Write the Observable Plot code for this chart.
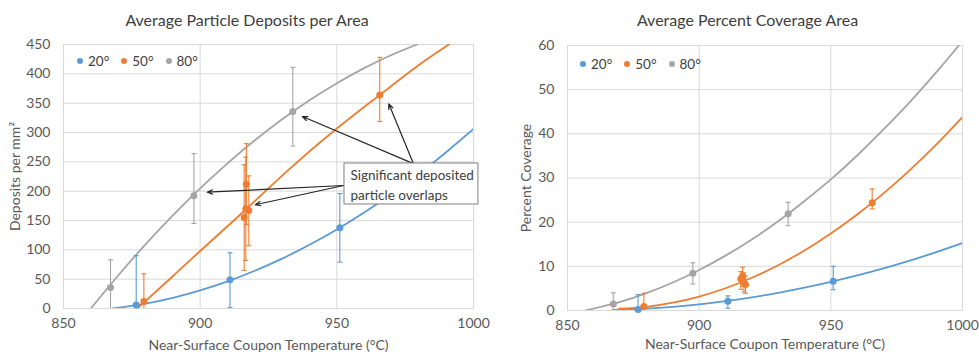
<!DOCTYPE html>
<html>
<head>
<meta charset="utf-8">
<script src="https://cdn.jsdelivr.net/npm/d3@7"></script>
<script src="https://cdn.jsdelivr.net/npm/@observablehq/plot@0.6"></script>
<style>
  html, body { margin: 0; padding: 0; background: #fff; }
  #wrap { position: relative; width: 979px; height: 355px; display: flex; font-family: Lato, "Open Sans", sans-serif; }
  .panel { position: relative; display: flex; flex-direction: column; }
  .title { height: 36px; box-sizing: border-box; padding-top: 10px; line-height: 20px; font-size: 16px; color: #404040; text-align: center; }
  .legend { position: absolute; display: flex; gap: 12px; font-size: 13.5px; color: #404040; }
  .legend span { display: flex; align-items: center; }
  .legend i { display: inline-block; width: 6px; height: 6px; border-radius: 50%; margin-right: 5px; }
</style>
</head>
<body>
<div id="wrap"></div>
<script>
// ---------- shared ----------
const seriesNames = ["20°", "50°", "80°"];
const seriesColors = ["#5B9BD5", "#ED7D31", "#A5A5A5"];
const xTicks = [850, 900, 950, 1000];

// ---------- Average Particle Deposits per Area ----------
const depTicks = [0, 50, 100, 150, 200, 250, 300, 350, 400, 450];
const dep20T = [876.6, 910.9, 951.1];
const dep20V = [6, 49, 137.5];
const dep20Lo = [0, 2, 79];
const dep20Hi = [90, 95, 196];
const dep50T = [879.4, 916.1, 916.7, 916.9, 917.8, 965.7];
const dep50V = [12, 155, 170, 212, 167, 364];
const dep50Lo = [0, 65, 82, 143, 107, 319];
const dep50Hi = [59, 245, 258, 281, 226, 428];
const dep80T = [867.2, 897.7, 933.9];
const dep80V = [36, 192, 336];
const dep80Lo = [0, 145, 277];
const dep80Hi = [83, 264, 411];
// trendlines
const depFit20T = [868, 880, 890, 900, 910, 920, 930, 940, 950, 960, 970, 980, 990, 1000];
const depFit20V = [0, 8.4, 18.3, 31, 46.3, 64.4, 85.1, 108.6, 134.8, 163.6, 195.2, 229.3, 266.3, 306];
const depFit50T = [877, 890, 900, 917, 932, 949, 966, 980, 991];
const depFit50V = [0, 55, 98, 170, 235, 303, 365, 415, 450];
const depFit80T = [860, 870, 880, 890, 900, 910, 920, 930, 940, 950, 960, 970, 979.4];
const depFit80V = [0, 56.3, 109.2, 158.6, 204.7, 247.4, 286.7, 322.6, 355, 384.1, 409.8, 432.1, 450];
// annotation
const noteText = "Significant deposited\nparticle overlaps";
const noteBox = [{x1: 952.8, x2: 1001.8, y1: 177.3, y2: 247.2}];
const noteAnchor = [{x: 955, y: 212.5}];
const noteArrows = [
  {x1: 978, y1: 247, x2: 937.4, y2: 327.3},
  {x1: 978, y1: 247, x2: 969.0, y2: 348.9},
  {x1: 952.5, y1: 209.7, x2: 902.6, y2: 198.2},
  {x1: 952.5, y1: 209.7, x2: 920.2, y2: 176.8}
];

// ---------- Average Percent Coverage Area ----------
const covTicks = [0, 10, 20, 30, 40, 50, 60];
const cov20T = [876.8, 910.9, 950.9];
const cov20V = [0.2, 2.1, 6.6];
const cov20Lo = [0, 0.5, 4.7];
const cov20Hi = [3.6, 3.3, 10.0];
const cov50T = [879, 915.8, 916.5, 917.0, 917.6, 965.7];
const cov50V = [0.9, 7.2, 7.8, 6.4, 5.9, 24.4];
const cov50Lo = [0, 4.8, 5.5, 4.2, 3.9, 23.0];
const cov50Hi = [3.9, 8.8, 9.8, 8.5, 7.8, 27.5];
const cov80T = [867.4, 897.6, 933.8];
const cov80V = [1.5, 8.45, 21.9];
const cov80Lo = [0, 6.0, 19.2];
const cov80Hi = [4.0, 10.8, 24.5];
const covFit20T = [867, 880, 890, 900, 910, 920, 930, 940, 950, 960, 970, 980, 990, 1000];
const covFit20V = [0.1, 0.42, 0.84, 1.41, 2.13, 2.99, 4.0, 5.17, 6.48, 7.94, 9.54, 11.3, 13.2, 15.25];
const covFit50T = [869.5, 880, 890, 900, 910, 920, 930, 940, 950, 960, 970, 980, 990, 1000];
const covFit50V = [0.4, 0.84, 1.76, 3.16, 5.04, 7.41, 10.26, 13.6, 17.43, 21.73, 26.52, 31.8, 37.56, 43.8];
const covFit80T = [856.8, 870, 880, 890, 900, 910, 920, 930, 940, 950, 960, 970, 980, 990, 998.6];
const covFit80V = [0, 1.95, 3.92, 6.33, 9.16, 12.42, 16.1, 20.2, 24.8, 29.7, 35.1, 41.0, 47.2, 53.9, 60];

// ---------- helpers ----------
function pts(series, T, V, Lo, Hi) {
  return T.map((t, i) => ({series, t, v: V[i], lo: Lo ? Lo[i] : null, hi: Hi ? Hi[i] : null}));
}
const capSymbol = {
  draw(ctx, size) { const w = Math.sqrt(size); ctx.moveTo(-w, 0); ctx.lineTo(w, 0); }
};
const gridColor = "#d9d9d9";

function chart({width, marginLeft, marginTop, marginBottom, yTicks, yDomain, yLabel, yLabelOffset, xLabelOffset, points, fits, extra}) {
  return Plot.plot({
    width, height: 319, marginLeft, marginRight: 17, marginTop, marginBottom,
    style: {fontFamily: "Lato, 'Open Sans', sans-serif", fontSize: "13.5px", color: "#595959", background: "white"},
    x: {domain: [850, 1000]},
    y: {domain: yDomain},
    color: {domain: seriesNames, range: seriesColors},
    marks: [
      Plot.gridX(xTicks, {stroke: gridColor, strokeOpacity: 1}),
      Plot.gridY(yTicks, {stroke: gridColor, strokeOpacity: 1}),
      Plot.frame({stroke: gridColor}),
      Plot.axisX(xTicks, {tickSize: 0, tickPadding: 10, tickFormat: d => String(d), fontSize: 14,
        label: "Near-Surface Coupon Temperature (°C)", labelAnchor: "center", labelArrow: "none", labelOffset: xLabelOffset}),
      Plot.axisY(yTicks, {tickSize: 0, tickPadding: 13, tickFormat: d => String(d), fontSize: 14,
        label: yLabel, labelAnchor: "center", labelArrow: "none", labelOffset: yLabelOffset}),
      Plot.line(fits, {x: "t", y: "v", z: "series", stroke: "series", strokeWidth: 1.8, curve: "natural", clip: true}),
      Plot.ruleX(points, {x: "t", y1: "lo", y2: "hi", stroke: "series", strokeWidth: 1.1}),
      Plot.dot(points, {x: "t", y: "hi", stroke: "series", symbol: capSymbol, r: 1.4, strokeWidth: 1.1}),
      Plot.dot(points.filter(d => d.lo > 0), {x: "t", y: "lo", stroke: "series", symbol: capSymbol, r: 1.4, strokeWidth: 1.1}),
      Plot.dot(points, {x: "t", y: "v", fill: "series", r: 3.5}),
      ...(extra || [])
    ]
  });
}

function panel(width, titleText, titleShift, plot, legendLeft, legendTop) {
  const p = document.createElement("div");
  p.className = "panel";
  p.style.width = width + "px";
  const t = document.createElement("div");
  t.className = "title";
  t.style.paddingLeft = titleShift + "px";
  t.textContent = titleText;
  p.appendChild(t);
  p.appendChild(plot);
  const lg = document.createElement("div");
  lg.className = "legend";
  lg.style.left = legendLeft + "px";
  lg.style.top = legendTop + "px";
  seriesNames.forEach((n, i) => {
    const s = document.createElement("span");
    const dot = document.createElement("i");
    dot.style.background = seriesColors[i];
    s.appendChild(dot);
    s.appendChild(document.createTextNode(n));
    lg.appendChild(s);
  });
  p.appendChild(lg);
  return p;
}

// ---------- build ----------
const depPoints = [
  ...pts("20°", dep20T, dep20V, dep20Lo, dep20Hi),
  ...pts("50°", dep50T, dep50V, dep50Lo, dep50Hi),
  ...pts("80°", dep80T, dep80V, dep80Lo, dep80Hi)
];
const depFits = [
  ...pts("20°", depFit20T, depFit20V),
  ...pts("50°", depFit50T, depFit50V),
  ...pts("80°", depFit80T, depFit80V)
];
const covPoints = [
  ...pts("20°", cov20T, cov20V, cov20Lo, cov20Hi),
  ...pts("50°", cov50T, cov50V, cov50Lo, cov50Hi),
  ...pts("80°", cov80T, cov80V, cov80Lo, cov80Hi)
];
const covFits = [
  ...pts("20°", covFit20T, covFit20V),
  ...pts("50°", covFit50T, covFit50V),
  ...pts("80°", covFit80T, covFit80V)
];

const left = chart({
  width: 490, marginLeft: 63, marginTop: 8, marginBottom: 47,
  yTicks: depTicks, yDomain: [0, 450], yLabel: "Deposits per mm²", yLabelOffset: 53, xLabelOffset: 41,
  points: depPoints, fits: depFits,
  extra: [
    Plot.arrow(noteArrows, {x1: "x1", y1: "y1", x2: "x2", y2: "y2", stroke: "#262626", strokeWidth: 1.2, headLength: 7, headAngle: 45}),
    Plot.rect(noteBox, {x1: "x1", x2: "x2", y1: "y1", y2: "y2", fill: "white", stroke: "#7f7f7f", strokeWidth: 1}),
    Plot.text(noteAnchor, {x: "x", y: "y", text: () => noteText, textAnchor: "start", lineHeight: 1.45, fontSize: 13.5, fill: "#404040"})
  ]
});
const right = chart({
  width: 489, marginLeft: 77, marginTop: 9, marginBottom: 45,
  yTicks: covTicks, yDomain: [0, 60], yLabel: "Percent Coverage", yLabelOffset: 46, xLabelOffset: 38,
  points: covPoints, fits: covFits
});

const wrap = document.getElementById("wrap");
wrap.appendChild(panel(490, "Average Particle Deposits per Area", 4, left, 77, 53));
wrap.appendChild(panel(489, "Average Percent Coverage Area", 26, right, 90, 56));
</script>
</body>
</html>
